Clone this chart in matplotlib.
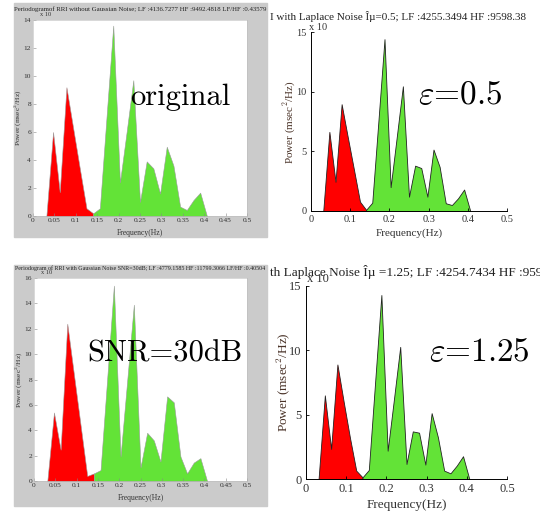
import matplotlib
matplotlib.use("Agg")
import matplotlib.pyplot as plt
from matplotlib.patches import Rectangle

plt.rcParams['mathtext.fontset'] = 'cm'
plt.rcParams['font.family'] = ['Liberation Serif', 'DejaVu Serif']

W, H = 540, 514

# frequency bins (Hz)
freq = [0.03125, 0.046875, 0.0625, 0.078125, 0.09375, 0.109375, 0.125, 0.140625,
        0.15625, 0.171875, 0.1875, 0.203125, 0.21875, 0.234375, 0.25, 0.265625,
        0.28125, 0.296875, 0.3125, 0.328125, 0.34375, 0.359375, 0.375, 0.390625,
        0.40625]
n_lf = 8  # LF band = first 8 bins, HF starts at the last LF bin

psd_original = [0, 6.0, 1.7, 9.2, 6.3, 3.4, 0.55, 0.19, 0.55, 7.1, 13.6, 2.4, 6.0,
                9.7, 1.0, 3.9, 3.4, 1.6, 4.95, 3.6, 0.67, 0.43, 1.14, 1.67, 0]
psd_eps05 = [0, 6.63, 2.45, 8.95, 6.2, 3.5, 0.78, 0.1, 0.7, 7.5, 14.4, 2.0, 6.2,
             10.45, 1.2, 3.8, 3.6, 1.2, 5.15, 3.7, 0.65, 0.5, 1.06, 1.8, 0]
psd_snr30 = [0, 5.4, 2.47, 12.4, 8.4, 4.4, 0.4, 0.6, 0.86, 8.1, 15.4, 1.93, 7.9,
             13.9, 1.07, 3.8, 3.2, 1.53, 6.67, 6.2, 1.93, 0.6, 1.45, 1.8, 0]
psd_eps125 = [0, 6.5, 2.34, 8.9, 6.0, 3.2, 0.65, 0.13, 0.7, 7.5, 14.3, 2.2, 6.2,
              10.27, 1.17, 3.7, 3.6, 1.12, 5.12, 3.25, 0.65, 0.44, 1.04, 1.77, 0]

titles = [
    "Periodogramof RRI without Gaussian Noise; LF :4136.7277 HF :9492.4818 LF/HF :0.43579",
    "I with Laplace Noise \u00ce\u00b5=0.5; LF :4255.3494 HF :9598.38",
    "Periodogram of RRI with Gaussian Noise SNR=30dB; LF :4779.1585 HF :11799.3066 LF/HF :0.40504",
    "th Laplace Noise \u00ce\u00b5 =1.25; LF :4254.7434 HF :9599",
]
tags = ["original", r"$\varepsilon$=0.5", "SNR=30dB", r"$\varepsilon$=1.25"]

left_ticks = [0, 0.05, 0.1, 0.15, 0.2, 0.25, 0.3, 0.35, 0.4, 0.45, 0.5]
left_ticklabels = ['0', '0.05', '0.1', '0.15', '0.2', '0.25', '0.3', '0.35', '0.4', '0.45', '0.5']
right_ticks = [0, 0.1, 0.2, 0.3, 0.4, 0.5]
right_ticklabels = ['0', '0.1', '0.2', '0.3', '0.4', '0.5']

RED = '#ff0000'
GREEN = '#63e337'
GRAY = '#cbcbcb'


def box(x0, y0, x1, y1):
    return [x0 / W, 1 - y1 / H, (x1 - x0) / W, (y1 - y0) / H]


fig = plt.figure(figsize=(W / 100, H / 100), dpi=100)

# gray MATLAB figure backgrounds for the two left screenshots
for (x0, y0, x1, y1) in [(14, 3, 267, 237), (14, 265, 267, 506)]:
    fig.patches.append(Rectangle((x0 / W, 1 - y1 / H), (x1 - x0) / W, (y1 - y0) / H,
                                 transform=fig.transFigure, color=GRAY, zorder=-10))


def draw_psd(ax, psd, edge, lw):
    ax.fill_between(freq[:n_lf], psd[:n_lf], 0, facecolor=RED, edgecolor=edge, linewidth=lw)
    ax.fill_between(freq[n_lf - 1:], psd[n_lf - 1:], 0, facecolor=GREEN, edgecolor=edge, linewidth=lw)
    ax.set_xlim(0, 0.5)


# ---- left panels (matlab style) ----
left_specs = [
    (box(33, 20, 247, 216), psd_original, 14, list(range(0, 15, 2)), titles[0], 9, 4.9,
     tags[0], (180, 97), (40, 14)),
    (box(34, 278, 247, 481), psd_snr30, 16, list(range(0, 17, 2)), titles[2], 268, 4.35,
     tags[2], (165, 354), (41, 273)),
]
for rect, psd, ymax, yt, title, ty, tfs, tag, tagpos, exppos in left_specs:
    ax = fig.add_axes(rect)
    draw_psd(ax, psd, '#9a9a9a', 0.4)
    ax.set_ylim(0, ymax)
    ax.set_xticks(left_ticks)
    ax.set_xticklabels(left_ticklabels)
    ax.set_yticks(yt)
    ax.tick_params(direction='in', length=2, width=0.4, color='#888888',
                   labelsize=5.3, labelcolor='#333333', pad=1.5)
    for s in ax.spines.values():
        s.set_color('#bbbbbb')
        s.set_linewidth(0.4)
    ax.text(0.5, -0.085, 'Frequency(Hz)', transform=ax.transAxes, ha='center',
            va='center', fontsize=5.5, color='#333333')
    ax.text(-0.066, 0.5, 'Power (msec$^2$/Hz)', transform=ax.transAxes, ha='center',
            va='center', rotation=90, fontsize=5.3, color='#333333')
    fig.text(140 / W, 1 - ty / H, title, ha='center', va='center', fontsize=tfs,
             color='#222222')
    fig.text(exppos[0] / W, 1 - exppos[1] / H, 'x 10', ha='left', va='center',
             fontsize=4.6, color='#333333')
    fig.text(tagpos[0] / W, 1 - tagpos[1] / H, tag, ha='center', va='center',
             fontsize=22, family='cmr10')

# ---- right panels (white, box off) ----
right_specs = [
    (box(311, 32, 507, 211), psd_eps05, titles[1], 17, tags[1], (460, 95), (309, 27),
     7.5, 8.0, -0.123, -0.107),
    (box(306, 286, 507, 479), psd_eps125, titles[3], 272, tags[3], (479, 352), (307, 279),
     9.0, 9.5, -0.135, -0.114),
]
for rect, psd, title, ty, tag, tagpos, exppos, fs, lfs, xly, ylx in right_specs:
    ax = fig.add_axes(rect)
    draw_psd(ax, psd, '#222222', 0.6)
    ax.set_ylim(0, 15)
    ax.set_xticks(right_ticks)
    ax.set_xticklabels(right_ticklabels)
    ax.set_yticks([0, 5, 10, 15])
    ax.spines['top'].set_visible(False)
    ax.spines['right'].set_visible(False)
    for s in ['left', 'bottom']:
        ax.spines[s].set_linewidth(0.7)
    ax.tick_params(direction='in', length=2.5, width=0.6, labelsize=fs,
                   labelcolor='#333333', pad=3)
    ax.text(0.5, xly, 'Frequency(Hz)', transform=ax.transAxes, ha='center',
            va='center', fontsize=lfs, color='#333333')
    ax.text(ylx, 0.5, 'Power (msec$^2$/Hz)', transform=ax.transAxes, ha='center',
            va='center', rotation=90, fontsize=lfs, color='#4a3328')
    fig.text(270 / W, 1 - ty / H, title, ha='left', va='center', fontsize=lfs,
             color='#222222')
    fig.text(exppos[0] / W, 1 - exppos[1] / H, 'x 10', ha='left', va='center',
             fontsize=fs, color='#333333')
    fig.text(tagpos[0] / W, 1 - tagpos[1] / H, tag, ha='center', va='center',
             fontsize=24, family='cmr10')

fig.savefig('out.png', dpi=100)
